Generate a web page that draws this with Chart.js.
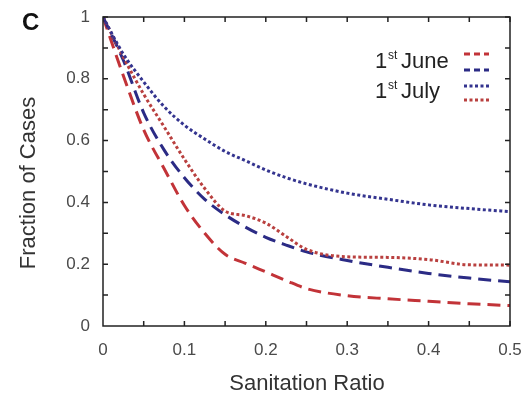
<!DOCTYPE html>
<html>
<head>
<meta charset="utf-8">
<script src="https://cdn.jsdelivr.net/npm/chart.js@4"></script>
<style>
  html, body { margin: 0; padding: 0; background: #fff; }
  #wrap { width: 523px; height: 396px; position: relative; }
</style>
</head>
<body>
<div id="wrap"><canvas id="chart" width="523" height="396"></canvas></div>
<script>
const ratio = [0, 0.025, 0.05, 0.075, 0.1, 0.125, 0.15, 0.175, 0.2, 0.225, 0.25, 0.3, 0.35, 0.4, 0.45, 0.5];
const juneRed = [1, 0.81, 0.635, 0.51, 0.39, 0.3, 0.232, 0.203, 0.175, 0.147, 0.121, 0.098, 0.088, 0.08, 0.072, 0.066];
const juneBlue = [1, 0.86, 0.69, 0.57, 0.48, 0.41, 0.36, 0.32, 0.287, 0.262, 0.24, 0.212, 0.19, 0.17, 0.155, 0.143];
const julyBlue = [1, 0.88, 0.79, 0.71, 0.65, 0.605, 0.565, 0.535, 0.505, 0.48, 0.46, 0.43, 0.41, 0.392, 0.38, 0.37];
const julyRed = [1, 0.87, 0.75, 0.645, 0.54, 0.445, 0.372, 0.357, 0.333, 0.29, 0.248, 0.224, 0.222, 0.215, 0.198, 0.197];
const xTicks = [0, 0.1, 0.2, 0.3, 0.4, 0.5];
const yTicks = [0, 0.2, 0.4, 0.6, 0.8, 1];

const RED = "#c23338";
const BLUE = "#2b2b85";
const RED_DOT = "#b9403f";
const BLUE_DOT = "#34348f";
const DASH = [13, 7];
const DOT = [3, 2.5];
const FONT = "'Liberation Sans', Arial, sans-serif";

function pts(ys) {
  return ratio.map((x, i) => ({ x: x, y: ys[i] }));
}

function line(ys, color, dash) {
  return {
    data: pts(ys),
    borderColor: color,
    borderWidth: 3,
    borderDash: dash,
    pointRadius: 0,
    fill: false,
    cubicInterpolationMode: "monotone",
  };
}

// frame, inward ticks, titles and legend
const decor = {
  id: "decor",
  afterDraw(c) {
    const ctx = c.ctx;
    const a = c.chartArea;
    const xs = c.scales.x, ys = c.scales.y;
    ctx.save();
    ctx.strokeStyle = "#222";
    ctx.lineWidth = 1.5;
    ctx.setLineDash([]);
    ctx.strokeRect(a.left, a.top, a.right - a.left, a.bottom - a.top);
    ctx.beginPath();
    for (let v = 0.05; v < 0.5; v += 0.05) {
      const p = xs.getPixelForValue(v);
      ctx.moveTo(p, a.bottom); ctx.lineTo(p, a.bottom - 5);
      ctx.moveTo(p, a.top); ctx.lineTo(p, a.top + 5);
    }
    for (let v = 0.1; v < 1; v += 0.1) {
      const p = ys.getPixelForValue(v);
      ctx.moveTo(a.left, p); ctx.lineTo(a.left + 5, p);
      ctx.moveTo(a.right, p); ctx.lineTo(a.right - 5, p);
    }
    ctx.stroke();

    ctx.fillStyle = "#333";
    ctx.font = "22px " + FONT;
    ctx.textAlign = "center";
    ctx.textBaseline = "alphabetic";
    ctx.fillText("Sanitation Ratio", 307, 390);
    ctx.save();
    ctx.translate(35, 183);
    ctx.rotate(-Math.PI / 2);
    ctx.fillText("Fraction of Cases", 0, 0);
    ctx.restore();

    ctx.fillStyle = "#111";
    ctx.font = "bold 24px " + FONT;
    ctx.textAlign = "left";
    ctx.fillText("C", 22, 30);

    // legend
    ctx.fillStyle = "#222";
    const lg = [["June", 68], ["July", 98]];
    lg.forEach(([m, y]) => {
      ctx.font = "22px " + FONT;
      ctx.fillText("1", 375, y);
      ctx.font = "12px " + FONT;
      ctx.fillText("st", 388, y - 9);
      ctx.font = "22px " + FONT;
      ctx.fillText(m, 401, y);
    });
    const samples = [[54, RED, [6, 4]], [70, BLUE, [6, 4]], [86, BLUE_DOT, DOT], [100, RED_DOT, DOT]];
    ctx.lineWidth = 3;
    samples.forEach(([y, col, d]) => {
      ctx.strokeStyle = col;
      ctx.setLineDash(d);
      ctx.beginPath();
      ctx.moveTo(464, y); ctx.lineTo(489, y);
      ctx.stroke();
    });
    ctx.restore();
  },
};

new Chart(document.getElementById("chart"), {
  type: "line",
  data: {
    datasets: [
      line(julyBlue, BLUE_DOT, DOT),
      line(julyRed, RED_DOT, DOT),
      line(juneBlue, BLUE, DASH),
      line(juneRed, RED, DASH),
    ],
  },
  options: {
    responsive: false,
    animation: false,
    layout: { padding: { top: 17, right: 13, left: 0, bottom: 0 } },
    plugins: { legend: { display: false }, tooltip: { enabled: false } },
    scales: {
      x: {
        type: "linear",
        min: 0,
        max: 0.5,
        afterBuildTicks: (s) => { s.ticks = xTicks.map((v) => ({ value: v })); },
        afterFit: (s) => { s.height = 70; s.paddingLeft = 0; s.paddingRight = 0; },
        grid: { display: false, drawTicks: false },
        border: { display: false },
        ticks: {
          padding: 14,
          color: "#4a4a4a",
          font: { size: 17, family: FONT },
          maxRotation: 0,
          callback: (v) => String(v),
        },
      },
      y: {
        min: 0,
        max: 1,
        afterBuildTicks: (s) => { s.ticks = yTicks.map((v) => ({ value: v })); },
        afterFit: (s) => { s.width = 103; s.paddingTop = 0; s.paddingBottom = 0; },
        grid: { display: false, drawTicks: false },
        border: { display: false },
        ticks: {
          padding: 13,
          color: "#4a4a4a",
          font: { size: 17, family: FONT },
          callback: (v) => String(v),
        },
      },
    },
  },
  plugins: [decor],
});
</script>
</body>
</html>
